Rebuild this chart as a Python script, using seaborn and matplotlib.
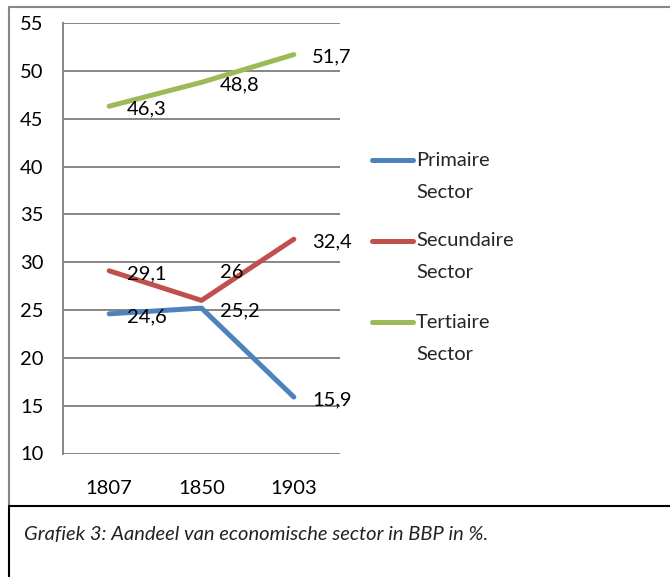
import matplotlib.pyplot as plt
import seaborn as sns
import pandas as pd
from matplotlib.lines import Line2D

years = ['1807', '1850', '1903']
primaire = [24.6, 25.2, 15.9]
secundaire = [29.1, 26, 32.4]
tertiaire = [46.3, 48.8, 51.7]
sectors = ['Primaire Sector', 'Secundaire Sector', 'Tertiaire Sector']
colors = ['#4F81BD', '#C0504D', '#9BBB59']
y_ticks = [10, 15, 20, 25, 30, 35, 40, 45, 50, 55]

sns.set_theme(style="white")
plt.rcParams['font.family'] = ['Lato', 'DejaVu Sans']
FS = 14.5

df = pd.DataFrame({
    'year': years * 3,
    'value': primaire + secundaire + tertiaire,
    'sector': [s for s in sectors for _ in years],
})

W, H = 670, 577
fig = plt.figure(figsize=(W / 100, H / 100), dpi=100)
fig.patch.set_facecolor('white')

def px(x0, y0, x1, y1):
    # pixel box (top-left origin) -> figure fraction
    return [x0 / W, 1 - y1 / H, (x1 - x0) / W, (y1 - y0) / H]

ax = fig.add_axes(px(63, 23, 340, 453.5))
sns.lineplot(data=df, x='year', y='value', hue='sector', palette=colors,
             linewidth=3.6, legend=False, ax=ax, solid_capstyle='round')

ax.set_xlim(-0.5, 2.5)
ax.set_ylim(10, 55)
ax.set_yticks(y_ticks)
ax.set_yticklabels([str(t) for t in y_ticks])
ax.set_xlabel('')
ax.set_ylabel('')
ax.yaxis.grid(True, color='#868686', linewidth=1.4)
ax.set_axisbelow(True)
for side in ['top', 'right', 'bottom']:
    ax.spines[side].set_visible(False)
ax.spines['left'].set_color('#868686')
ax.spines['left'].set_linewidth(1.4)
ax.tick_params(axis='y', length=0, pad=14, labelsize=FS, labelcolor='black')
ax.tick_params(axis='x', length=0, pad=19, labelsize=FS, labelcolor='black')

# data labels, right of the point; the 1850 secundaire label sits above
for vals in [primaire, secundaire, tertiaire]:
    for i, v in enumerate(vals):
        lab = f"{v:g}".replace('.', ',')
        dy = -2
        if vals is secundaire and i == 1:
            dy = 20
        ax.annotate(lab, (i, v), xytext=(13, dy), textcoords='offset points',
                    ha='left', va='center', fontsize=FS, color='black')

# legend drawn by hand so the line sits at the first text line
leg_y = [160, 241, 322]
for name, c, y in zip(sectors, colors, leg_y):
    fig.add_artist(Line2D([372 / W, 413 / W], [1 - y / H, 1 - y / H],
                          color=c, linewidth=3.6, solid_capstyle='round'))
    first, second = name.split(' ')
    fig.text(416 / W, 1 - y / H, first, fontsize=FS, va='center', ha='left')
    fig.text(416 / W, 1 - (y + 32) / H, second, fontsize=FS, va='center', ha='left')

# chart border and caption box
fig.add_artist(Line2D([9 / W, 1], [1 - 7 / H, 1 - 7 / H], color='#868686', linewidth=1.5))
fig.add_artist(Line2D([9 / W, 9 / W], [1 - 7 / H, 1 - 506 / H], color='#868686', linewidth=1.5))
fig.add_artist(Line2D([9 / W, 1], [1 - 506 / H, 1 - 506 / H], color='black', linewidth=1.5))
fig.add_artist(Line2D([9 / W, 9 / W], [1 - 506 / H, 0], color='black', linewidth=1.5))

fig.text(24 / W, 1 - 535 / H, 'Grafiek 3: Aandeel van economische sector in BBP in %.',
         fontsize=FS, style='italic', va='center', ha='left', color='#222222')

plt.savefig('out.png', dpi=100)
